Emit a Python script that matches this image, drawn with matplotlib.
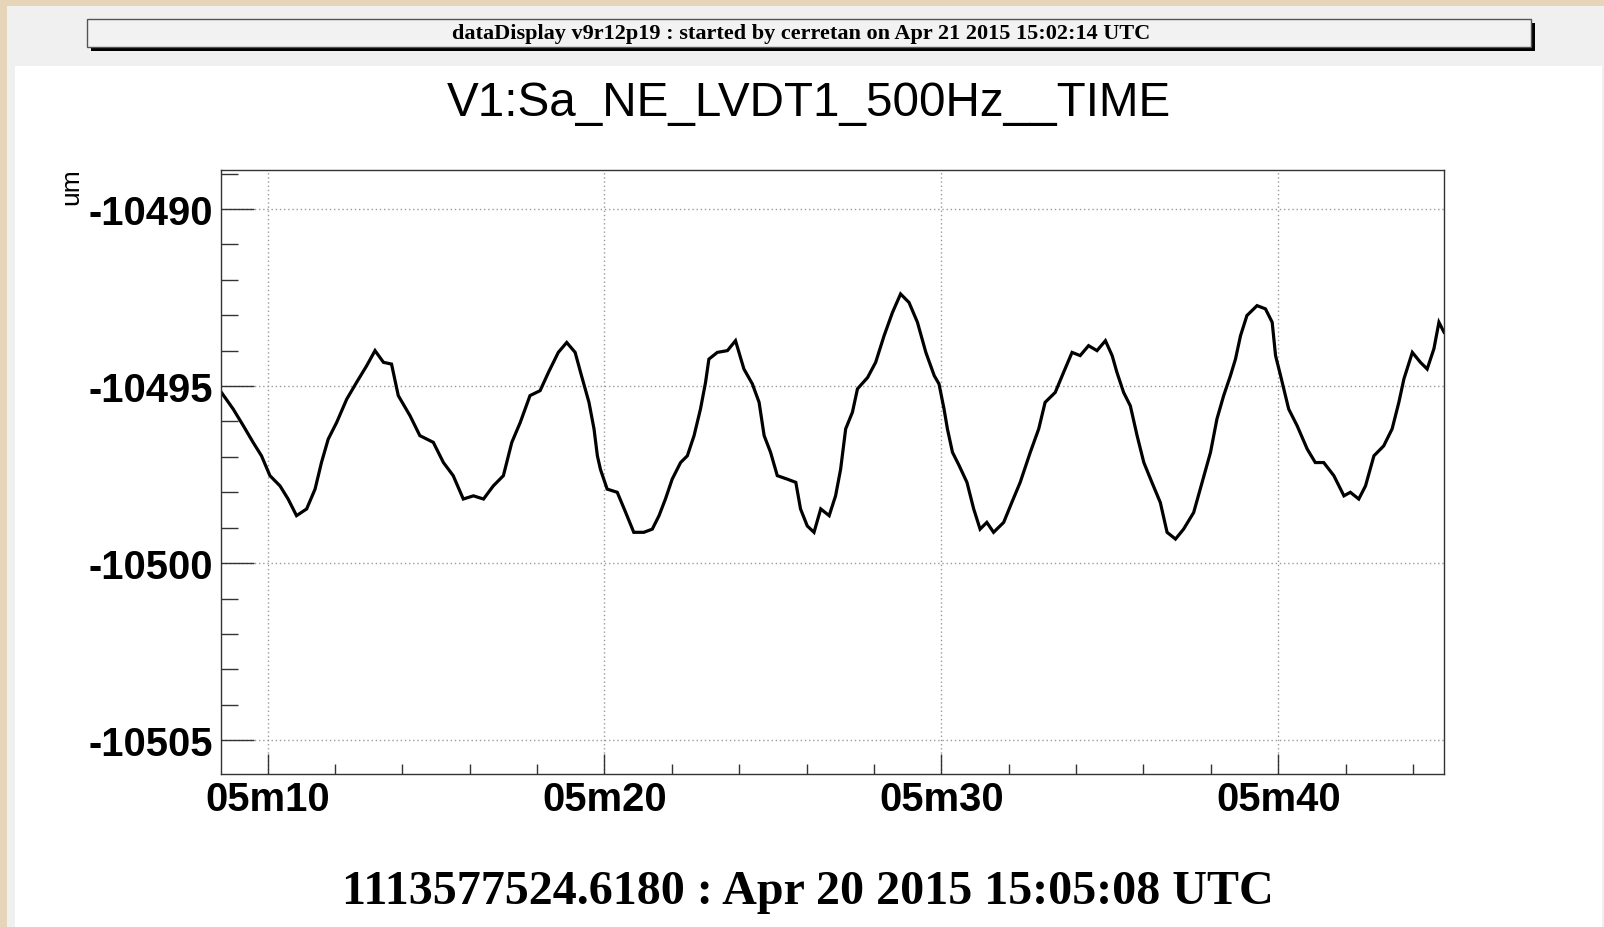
import matplotlib
matplotlib.use("Agg")
import matplotlib.pyplot as plt
from matplotlib.patches import Rectangle
from matplotlib.ticker import MultipleLocator, FixedLocator, FixedFormatter

plt.rcParams["axes.unicode_minus"] = False

W, H = 1604, 928
# trace (seconds after 15:05:00, um)
t = [8.63, 8.98, 9.28, 9.57, 9.82, 10.07, 10.37, 10.61, 10.86, 11.16, 11.41, 11.60,
     11.80, 12.05, 12.35, 12.64, 12.94, 13.19, 13.44, 13.68, 13.88, 14.23, 14.52, 14.92,
     15.22, 15.51, 15.81, 16.11, 16.41, 16.70, 17.00, 17.25, 17.50, 17.79, 18.09, 18.34,
     18.63, 18.88, 19.13, 19.29, 19.54, 19.69, 19.79, 19.88, 20.08, 20.38, 20.63, 20.87,
     21.17, 21.42, 21.62, 21.81, 22.01, 22.26, 22.46, 22.66, 22.85, 23.00, 23.10, 23.35,
     23.65, 23.89, 24.14, 24.39, 24.59, 24.74, 24.93, 25.13, 25.43, 25.68, 25.82, 26.02,
     26.22, 26.42, 26.67, 26.86, 27.01, 27.16, 27.36, 27.51, 27.81, 28.05, 28.30, 28.55,
     28.79, 29.04, 29.29, 29.54, 29.79, 29.93, 30.08, 30.18, 30.33, 30.53, 30.76, 30.96,
     31.15, 31.35, 31.55, 31.85, 32.09, 32.34, 32.64, 32.89, 33.08, 33.38, 33.63, 33.88,
     34.12, 34.37, 34.62, 34.87, 35.07, 35.21, 35.41, 35.61, 35.81, 36.01, 36.25, 36.50,
     36.70, 36.95, 37.19, 37.49, 37.74, 37.99, 38.18, 38.38, 38.58, 38.73, 38.88, 39.07,
     39.37, 39.62, 39.82, 39.92, 40.07, 40.31, 40.56, 40.86, 41.10, 41.35, 41.65, 41.95,
     42.14, 42.39, 42.59, 42.84, 43.13, 43.38, 43.58, 43.73, 43.98, 44.22, 44.42, 44.62,
     44.77, 44.92]
um = [-10495.18, -10495.65, -10496.12, -10496.59, -10496.97, -10497.53, -10497.82, -10498.19,
      -10498.66, -10498.47, -10497.91, -10497.16, -10496.50, -10496.03, -10495.37, -10494.90,
      -10494.43, -10494.00, -10494.33, -10494.38, -10495.27, -10495.84, -10496.40, -10496.59,
      -10497.16, -10497.53, -10498.19, -10498.10, -10498.19, -10497.82, -10497.53, -10496.59,
      -10496.03, -10495.27, -10495.13, -10494.61, -10494.05, -10493.77, -10494.05, -10494.61,
      -10495.46, -10496.21, -10496.97, -10497.35, -10497.91, -10498.00, -10498.57, -10499.13,
      -10499.13, -10499.04, -10498.66, -10498.19, -10497.63, -10497.16, -10496.97, -10496.40,
      -10495.65, -10494.90, -10494.24, -10494.05, -10494.00, -10493.72, -10494.52, -10494.94,
      -10495.46, -10496.40, -10496.87, -10497.53, -10497.63, -10497.72, -10498.47, -10498.95,
      -10499.13, -10498.47, -10498.66, -10498.10, -10497.35, -10496.21, -10495.74, -10495.08,
      -10494.76, -10494.33, -10493.58, -10492.92, -10492.40, -10492.64, -10493.20, -10494.05,
      -10494.71, -10494.94, -10495.65, -10496.21, -10496.87, -10497.25, -10497.72, -10498.47,
      -10499.04, -10498.85, -10499.13, -10498.85, -10498.29, -10497.72, -10496.87, -10496.21,
      -10495.46, -10495.18, -10494.61, -10494.05, -10494.14, -10493.86, -10494.00, -10493.72,
      -10494.14, -10494.61, -10495.18, -10495.56, -10496.40, -10497.16, -10497.72, -10498.29,
      -10499.13, -10499.32, -10499.04, -10498.57, -10497.72, -10496.87, -10495.93, -10495.27,
      -10494.71, -10494.24, -10493.58, -10493.01, -10492.73, -10492.82, -10493.20, -10494.14,
      -10494.71, -10495.65, -10496.12, -10496.78, -10497.16, -10497.16, -10497.53, -10498.10,
      -10498.00, -10498.19, -10497.82, -10496.97, -10496.69, -10496.21, -10495.46, -10494.80,
      -10494.05, -10494.33, -10494.52, -10493.95, -10493.20, -10493.48]
xticks = [10, 20, 30, 40]
xlabels = ["05m10", "05m20", "05m30", "05m40"]
yticks = [-10505, -10500, -10495, -10490]

title = "V1:Sa_NE_LVDT1_500Hz__TIME"
header = "dataDisplay v9r12p19 : started by cerretan on Apr 21 2015 15:02:14 UTC"
footer = "1113577524.6180 : Apr 20 2015 15:05:08 UTC"

SANS = "Liberation Sans"; SERIF = "Liberation Serif"

def fx(px): return px / W
def fy(py): return 1 - py / H

fig = plt.figure(figsize=(W / 100, H / 100), dpi=100, facecolor="#e6d5b9")
# canvas layers (behind the axes)
fig.patches.append(Rectangle((fx(7), 0), 1 - fx(7), fy(7), transform=fig.transFigure,
                             facecolor="#f0f0f0", edgecolor="none", zorder=-2))
fig.patches.append(Rectangle((fx(15), 0), fx(1602) - fx(15), fy(67), transform=fig.transFigure,
                             facecolor="white", edgecolor="none", zorder=-1))
# header box with shadow
fig.patches.append(Rectangle((fx(91), fy(52)), fx(1535) - fx(91), fy(24) - fy(52),
                             transform=fig.transFigure, facecolor="black", edgecolor="none", zorder=1))
fig.patches.append(Rectangle((fx(87), fy(48)), fx(1531) - fx(87), fy(20) - fy(48),
                             transform=fig.transFigure, facecolor="#f2f2f2", edgecolor="#555555",
                             lw=1, zorder=2))
fig.text(fx(801), fy(34), header, ha="center", va="center", family=SERIF,
         fontweight="bold", fontsize=16, zorder=3)
fig.text(fx(809), fy(116), title, ha="center", va="baseline", family=SANS, fontsize=34.3)
fig.text(fx(808), fy(904), footer, ha="center", va="baseline", family=SERIF,
         fontweight="bold", fontsize=34.6)
fig.text(fx(83), fy(168), "um", ha="right", va="top", rotation=90, family=SANS, fontsize=19)

ax = fig.add_axes([fx(221), fy(774.5), fx(1444) - fx(221), fy(171) - fy(774.5)])
ax.set_facecolor("white")
ax.plot(t, um, color="black", lw=2.3, solid_joinstyle="miter")
ax.set_xlim(8.618, 44.92)
ax.set_ylim(-10505.94, -10488.9)

ax.xaxis.set_major_locator(FixedLocator(xticks))
ax.xaxis.set_major_formatter(FixedFormatter(xlabels))
ax.xaxis.set_minor_locator(MultipleLocator(2))
ax.yaxis.set_major_locator(FixedLocator(yticks))
ax.yaxis.set_minor_locator(MultipleLocator(1))
ax.tick_params(axis="both", which="both", direction="in", color="#333333", width=1,
               top=False, right=False)
ax.tick_params(axis="y", which="major", length=23.8, pad=5.5)
ax.tick_params(axis="y", which="minor", length=12.2)
ax.tick_params(axis="x", which="major", length=14.4, pad=4.5)
ax.tick_params(axis="x", which="minor", length=7.2)
for lab in ax.get_xticklabels() + ax.get_yticklabels():
    lab.set_family(SANS); lab.set_fontweight("bold"); lab.set_fontsize(28.8)
ax.grid(True, which="major", color="#9a9a9a", ls=(0, (1, 2)), lw=1)
for s in ax.spines.values():
    s.set_color("#333333"); s.set_linewidth(1)

fig.savefig("out.png", dpi=100, facecolor=fig.get_facecolor())
